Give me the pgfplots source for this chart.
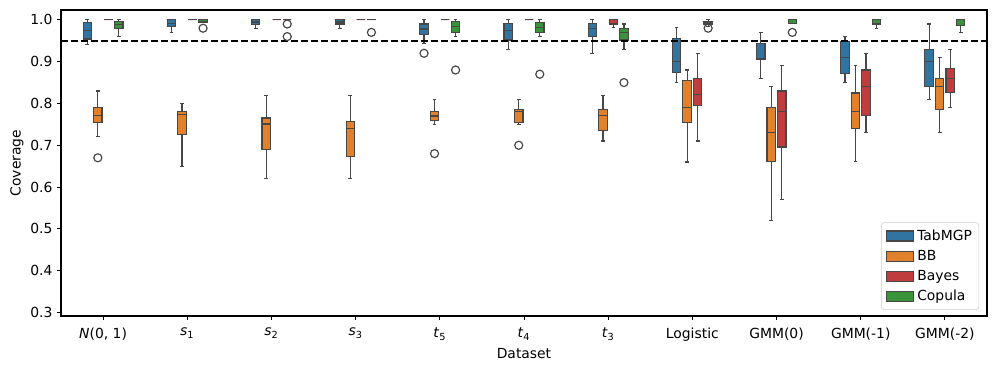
\documentclass[border=0pt]{standalone}
\usepackage{fontspec}
\setmainfont{DejaVu Sans}
\usepackage{pgfplots}
\pgfplotsset{compat=1.18}
\usepgfplotslibrary{statistics}
\definecolor{cblue}{HTML}{3274A1}
\definecolor{corange}{HTML}{E1812C}
\definecolor{cred}{HTML}{C03D3E}
\definecolor{cgreen}{HTML}{3A923A}
\definecolor{cgray}{HTML}{474747}
\pgfplotsset{
  bxbase/.style={forget plot, boxplot/draw direction=y, draw=cgray, line width=0.85pt,
     boxplot/box extend=0.1, boxplot/whisker extend=0.045,
     boxplot/every whisker/.style={line width=0.85pt, draw=cgray},
     mark=o, mark size=2.9pt, mark options={draw=cgray, fill=none, line width=0.85pt, solid}},
  tb/.style={bxbase, fill=cblue},
  bb/.style={bxbase, fill=corange},
  by/.style={bxbase, fill=cred},
  cp/.style={bxbase, fill=cgreen},
}
\begin{document}
\begin{tikzpicture}
\begin{axis}[
  at={(0,0)}, anchor=south west,
  scale only axis, width=666.7pt, height=220.3pt,
  xmin=-0.5, xmax=10.5, ymin=0.2915, ymax=1.0235,
  xtick={0,...,10},
  xticklabels={{\textit{N}(0, 1)},{\textit{s}\textsubscript{1}},{\textit{s}\textsubscript{2}},{\textit{s}\textsubscript{3}},{\textit{t}\textsubscript{5}},{\textit{t}\textsubscript{4}},{\textit{t}\textsubscript{3}},Logistic,GMM(0),GMM(-1),GMM(-2)},
  xticklabel style={yshift=-2.5pt},
  ytick={0.3,0.4,...,1.0},
  yticklabel style={/pgf/number format/.cd, fixed, fixed zerofill, precision=1, assume math mode=true},
  tick align=outside, tick style={black, line width=0.6pt}, major tick length=2.6pt,
  axis line style={black, line width=0.8pt},
  xtick pos=bottom, ytick pos=left,
  tick label style={font=\fontsize{10}{12}\selectfont},
  label style={font=\fontsize{10}{12}\selectfont},
  xlabel={Dataset}, ylabel={Coverage},
  xlabel style={yshift=2pt}, ylabel style={yshift=-2pt},
  legend cell align=left,
  legend style={at={(0.9915,0.02)}, anchor=south east, draw=gray!40, rounded corners=2pt,
    font=\fontsize{10}{12}\selectfont, row sep=1.6pt, inner xsep=3pt, inner ysep=3pt},
  legend image code/.code={\draw[#1, sharp corners, draw=cgray, line width=0.85pt] (0pt,-3.6pt) rectangle (20pt,3.6pt);},
]
% N(0,1)
\addplot[tb, boxplot prepared={lower whisker=0.942, lower quartile=0.954, median=0.974, upper quartile=0.994, upper whisker=1.0, draw position=-0.1875}] coordinates {};
\addplot[bb, boxplot prepared={lower whisker=0.720, lower quartile=0.754, median=0.771, upper quartile=0.790, upper whisker=0.830, draw position=-0.0625}] coordinates {(0,0.670)};
\addplot[by, boxplot prepared={lower whisker=1.0, lower quartile=1.0, median=1.0, upper quartile=1.0, upper whisker=1.0, draw position=0.0625}] coordinates {};
\addplot[cp, boxplot prepared={lower whisker=0.960, lower quartile=0.980, median=0.988, upper quartile=0.996, upper whisker=1.0, draw position=0.1875}] coordinates {};
% s1
\addplot[tb, boxplot prepared={lower whisker=0.970, lower quartile=0.984, median=0.992, upper quartile=1.0, upper whisker=1.0, draw position=0.8125}] coordinates {};
\addplot[bb, boxplot prepared={lower whisker=0.650, lower quartile=0.726, median=0.774, upper quartile=0.780, upper whisker=0.800, draw position=0.9375}] coordinates {};
\addplot[by, boxplot prepared={lower whisker=1.0, lower quartile=1.0, median=1.0, upper quartile=1.0, upper whisker=1.0, draw position=1.0625}] coordinates {};
\addplot[cp, boxplot prepared={lower whisker=0.995, lower quartile=0.995, median=1.0, upper quartile=1.0, upper whisker=1.0, draw position=1.1875}] coordinates {(1,0.980)};
% s2
\addplot[tb, boxplot prepared={lower whisker=0.980, lower quartile=0.988, median=0.995, upper quartile=1.0, upper whisker=1.0, draw position=1.8125}] coordinates {};
\addplot[bb, boxplot prepared={lower whisker=0.620, lower quartile=0.690, median=0.751, upper quartile=0.765, upper whisker=0.819, draw position=1.9375}] coordinates {};
\addplot[by, boxplot prepared={lower whisker=1.0, lower quartile=1.0, median=1.0, upper quartile=1.0, upper whisker=1.0, draw position=2.0625}] coordinates {};
\addplot[cp, boxplot prepared={lower whisker=1.0, lower quartile=1.0, median=1.0, upper quartile=1.0, upper whisker=1.0, draw position=2.1875}] coordinates {(2,0.990) (2,0.960)};
% s3
\addplot[tb, boxplot prepared={lower whisker=0.980, lower quartile=0.990, median=0.995, upper quartile=1.0, upper whisker=1.0, draw position=2.8125}] coordinates {};
\addplot[bb, boxplot prepared={lower whisker=0.620, lower quartile=0.674, median=0.740, upper quartile=0.756, upper whisker=0.819, draw position=2.9375}] coordinates {};
\addplot[by, boxplot prepared={lower whisker=1.0, lower quartile=1.0, median=1.0, upper quartile=1.0, upper whisker=1.0, draw position=3.0625}] coordinates {};
\addplot[cp, boxplot prepared={lower whisker=1.0, lower quartile=1.0, median=1.0, upper quartile=1.0, upper whisker=1.0, draw position=3.1875}] coordinates {(3,0.970)};
% t5
\addplot[tb, boxplot prepared={lower whisker=0.943, lower quartile=0.964, median=0.978, upper quartile=0.990, upper whisker=1.0, draw position=3.8125}] coordinates {(4,0.920)};
\addplot[bb, boxplot prepared={lower whisker=0.750, lower quartile=0.759, median=0.770, upper quartile=0.781, upper whisker=0.810, draw position=3.9375}] coordinates {(4,0.680)};
\addplot[by, boxplot prepared={lower whisker=1.0, lower quartile=1.0, median=1.0, upper quartile=1.0, upper whisker=1.0, draw position=4.0625}] coordinates {};
\addplot[cp, boxplot prepared={lower whisker=0.960, lower quartile=0.970, median=0.984, upper quartile=0.996, upper whisker=1.0, draw position=4.1875}] coordinates {(4,0.880)};
% t4
\addplot[tb, boxplot prepared={lower whisker=0.930, lower quartile=0.952, median=0.975, upper quartile=0.992, upper whisker=1.0, draw position=4.8125}] coordinates {};
\addplot[bb, boxplot prepared={lower whisker=0.750, lower quartile=0.755, median=0.781, upper quartile=0.785, upper whisker=0.810, draw position=4.9375}] coordinates {(5,0.700)};
\addplot[by, boxplot prepared={lower whisker=1.0, lower quartile=1.0, median=1.0, upper quartile=1.0, upper whisker=1.0, draw position=5.0625}] coordinates {};
\addplot[cp, boxplot prepared={lower whisker=0.961, lower quartile=0.970, median=0.982, upper quartile=0.994, upper whisker=1.0, draw position=5.1875}] coordinates {(5,0.870)};
% t3
\addplot[tb, boxplot prepared={lower whisker=0.920, lower quartile=0.960, median=0.979, upper quartile=0.991, upper whisker=1.0, draw position=5.8125}] coordinates {};
\addplot[bb, boxplot prepared={lower whisker=0.710, lower quartile=0.735, median=0.771, upper quartile=0.785, upper whisker=0.819, draw position=5.9375}] coordinates {};
\addplot[by, boxplot prepared={lower whisker=0.981, lower quartile=0.990, median=1.0, upper quartile=1.0, upper whisker=1.0, draw position=6.0625}] coordinates {};
\addplot[cp, boxplot prepared={lower whisker=0.930, lower quartile=0.952, median=0.970, upper quartile=0.979, upper whisker=0.990, draw position=6.1875}] coordinates {(6,0.850)};
% Logistic
\addplot[tb, boxplot prepared={lower whisker=0.851, lower quartile=0.875, median=0.900, upper quartile=0.956, upper whisker=0.981, draw position=6.8125}] coordinates {};
\addplot[bb, boxplot prepared={lower whisker=0.660, lower quartile=0.755, median=0.790, upper quartile=0.855, upper whisker=0.880, draw position=6.9375}] coordinates {};
\addplot[by, boxplot prepared={lower whisker=0.710, lower quartile=0.795, median=0.821, upper quartile=0.860, upper whisker=0.920, draw position=7.0625}] coordinates {};
\addplot[cp, boxplot prepared={lower whisker=0.985, lower quartile=0.990, median=0.990, upper quartile=0.995, upper whisker=1.0, draw position=7.1875}] coordinates {(7,0.980)};
% GMM(0)
\addplot[tb, boxplot prepared={lower whisker=0.860, lower quartile=0.906, median=0.908, upper quartile=0.944, upper whisker=0.970, draw position=7.8125}] coordinates {};
\addplot[bb, boxplot prepared={lower whisker=0.520, lower quartile=0.661, median=0.730, upper quartile=0.791, upper whisker=0.841, draw position=7.9375}] coordinates {};
\addplot[by, boxplot prepared={lower whisker=0.571, lower quartile=0.696, median=0.780, upper quartile=0.830, upper whisker=0.891, draw position=8.0625}] coordinates {};
\addplot[cp, boxplot prepared={lower whisker=0.992, lower quartile=0.992, median=1.0, upper quartile=1.0, upper whisker=1.0, draw position=8.1875}] coordinates {(8,0.970)};
% GMM(-1)
\addplot[tb, boxplot prepared={lower whisker=0.851, lower quartile=0.871, median=0.910, upper quartile=0.949, upper whisker=0.960, draw position=8.8125}] coordinates {};
\addplot[bb, boxplot prepared={lower whisker=0.661, lower quartile=0.740, median=0.781, upper quartile=0.825, upper whisker=0.891, draw position=8.9375}] coordinates {};
\addplot[by, boxplot prepared={lower whisker=0.730, lower quartile=0.771, median=0.841, upper quartile=0.880, upper whisker=0.920, draw position=9.0625}] coordinates {};
\addplot[cp, boxplot prepared={lower whisker=0.980, lower quartile=0.990, median=1.0, upper quartile=1.0, upper whisker=1.0, draw position=9.1875}] coordinates {};
% GMM(-2)
\addplot[tb, boxplot prepared={lower whisker=0.810, lower quartile=0.841, median=0.900, upper quartile=0.930, upper whisker=0.990, draw position=9.8125}] coordinates {};
\addplot[bb, boxplot prepared={lower whisker=0.730, lower quartile=0.785, median=0.841, upper quartile=0.860, upper whisker=0.910, draw position=9.9375}] coordinates {};
\addplot[by, boxplot prepared={lower whisker=0.791, lower quartile=0.826, median=0.860, upper quartile=0.884, upper whisker=0.930, draw position=10.0625}] coordinates {};
\addplot[cp, boxplot prepared={lower whisker=0.970, lower quartile=0.986, median=1.0, upper quartile=1.0, upper whisker=1.0, draw position=10.1875}] coordinates {};
% reference line
\addplot[forget plot, black, line width=1.45pt, dash pattern=on 4.8pt off 2.4pt] coordinates {(-0.5,0.95) (10.5,0.95)};
\addlegendimage{fill=cblue}\addlegendentry{TabMGP}
\addlegendimage{fill=corange}\addlegendentry{BB}
\addlegendimage{fill=cred}\addlegendentry{Bayes}
\addlegendimage{fill=cgreen}\addlegendentry{Copula}
\end{axis}
\pgfresetboundingbox
\path[use as bounding box] (-43.92pt,-38.16pt) rectangle (673.2pt,227.52pt);
\end{tikzpicture}
\end{document}
